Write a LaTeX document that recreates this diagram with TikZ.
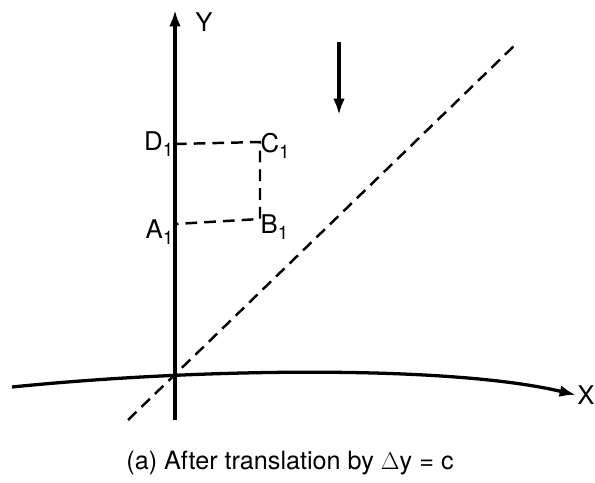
\documentclass[tikz,border=0pt]{standalone}
\usepackage{fontspec}
\setmainfont{TeX Gyre Heros}
\usetikzlibrary{calc}
\usetikzlibrary{arrows.meta}
\newcommand{\lowsub}[1]{\raisebox{-5pt}{\fontsize{16}{16}\selectfont #1}}

\begin{document}
\begin{tikzpicture}[x=0.03cm,y=-0.03cm,
        axis/.style={line width=2.8pt,-{Latex[length=14pt,width=10pt]}},
        dashline/.style={line width=2.1pt,dash pattern=on 10pt off 6pt},
        lbl/.style={font=\fontsize{22}{24}\selectfont}]
        \useasboundingbox (0,0) rectangle (595,483);

        \coordinate (O) at (175,375);
        \coordinate (Ybot) at (175,420);
        \coordinate (Ytop) at (175,10);
        \coordinate (Xl) at (12,387);
        \coordinate (Xr) at (576,395);
        \coordinate (Lbot) at (128,420);
        \coordinate (Ltop) at (515,45);
        \coordinate (Mtop) at (339,42);
        \coordinate (Mbot) at (339,115);

        \coordinate [label={[lbl,xshift=2pt]left:D\lowsub{1}}] (D1) at (175,144);
        \coordinate [label={[lbl,xshift=-3pt,yshift=-3pt]right:C\lowsub{1}}] (C1) at (260,142);
        \coordinate [label={[lbl,xshift=-3pt,yshift=-7pt]right:B\lowsub{1}}] (B1) at (260,219);
        \coordinate [label={[lbl,xshift=2pt,yshift=-7pt]left:A\lowsub{1}}] (A1) at (175,224);

        \draw[axis] (Ybot) -- (Ytop);
        \draw[axis] (Xl) .. controls (200,368) and (450,365) .. (Xr);
        \node[lbl] (Y) at (204,22) {Y};
        \node[lbl,anchor=west,inner sep=1pt] (X) at (Xr) {X};

        \draw[dashline] (Lbot) -- (Ltop);
        \draw[dashline] (D1) -- (C1) -- (B1) -- (A1);

        \draw[axis] (Mtop) -- (Mbot);

        \node[font=\fontsize{21.5}{24}\selectfont] (cap) at (290,463) {(a) After translation by $\Delta$y = c};
    \end{tikzpicture}
\end{document}
